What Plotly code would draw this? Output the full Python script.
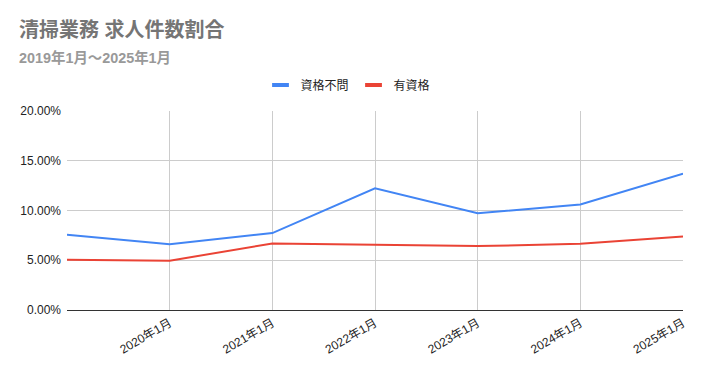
import plotly.graph_objects as go

categories = ["2019年1月", "2020年1月", "2021年1月", "2022年1月", "2023年1月", "2024年1月", "2025年1月"]
no_qual = [0.0756, 0.0662, 0.0773, 0.1224, 0.0973, 0.1060, 0.1371]
qual = [0.0505, 0.0495, 0.0669, 0.0652, 0.0642, 0.0665, 0.0739]
series_names = ["資格不問", "有資格"]
series_colors = ["#4285F4", "#EA4335"]
tick_labels = categories[1:]
y_ticks = [0, 0.05, 0.10, 0.15, 0.20]

FONT = "Arial, 'Liberation Sans', 'Noto Sans CJK JP', sans-serif"

# page body has an 8px default margin, so the figure is sized to fit inside the window
W, H = 695, 363

fig = go.Figure()
for vals, name, col in zip([no_qual, qual], series_names, series_colors):
    fig.add_trace(go.Scatter(x=categories, y=vals, mode="lines", name=name,
                             line=dict(color=col, width=2), showlegend=False))
# legend-only entries with short, thick swatches
for name, col in zip(series_names, series_colors):
    fig.add_trace(go.Scatter(x=[None], y=[None], mode="markers", name=name,
                             marker=dict(symbol="line-ew", size=12, color=col,
                                         line=dict(color=col, width=4)),
                             showlegend=True))

fig.update_layout(
    width=W, height=H,
    margin=dict(l=59, r=20, t=103, b=61, autoexpand=False),
    paper_bgcolor="white", plot_bgcolor="white",
    font=dict(family=FONT, color="#222222", size=12),
    showlegend=True,
    legend=dict(orientation="h", xref="container", yref="container",
                x=340 / W, xanchor="center", y=1 - 77 / H, yanchor="middle",
                font=dict(size=12, color="#222222"), itemwidth=30),
    xaxis=dict(type="category", range=[0, 6], tickvals=tick_labels, ticktext=tick_labels,
               tickangle=-30, showgrid=True, gridcolor="#cccccc", gridwidth=1,
               showline=False, zeroline=False, ticks="", automargin=False,
               ticklabelstandoff=3, tickfont=dict(size=12, color="#222222")),
    yaxis=dict(range=[0, 0.2], tickvals=y_ticks, tickformat=".2%", showgrid=True,
               gridcolor="#cccccc", gridwidth=1, zeroline=True, zerolinecolor="#333333",
               zerolinewidth=1, showline=False, ticks="", automargin=False,
               ticklabelstandoff=5, tickfont=dict(size=12, color="#222222")),
    annotations=[
        dict(text="<b>清掃業務 求人件数割合</b>", xref="paper", yref="paper", x=0, y=1,
             xanchor="left", yanchor="middle", showarrow=False,
             font=dict(size=20, color="#757575", family=FONT),
             xshift=-50, yshift=81),
        dict(text="<b>2019年1月～2025年1月</b>", xref="paper", yref="paper", x=0, y=1,
             xanchor="left", yanchor="middle", showarrow=False,
             font=dict(size=14.4, color="#999999", family=FONT),
             xshift=-50, yshift=54),
    ],
)

fig.write_html("out.html")
